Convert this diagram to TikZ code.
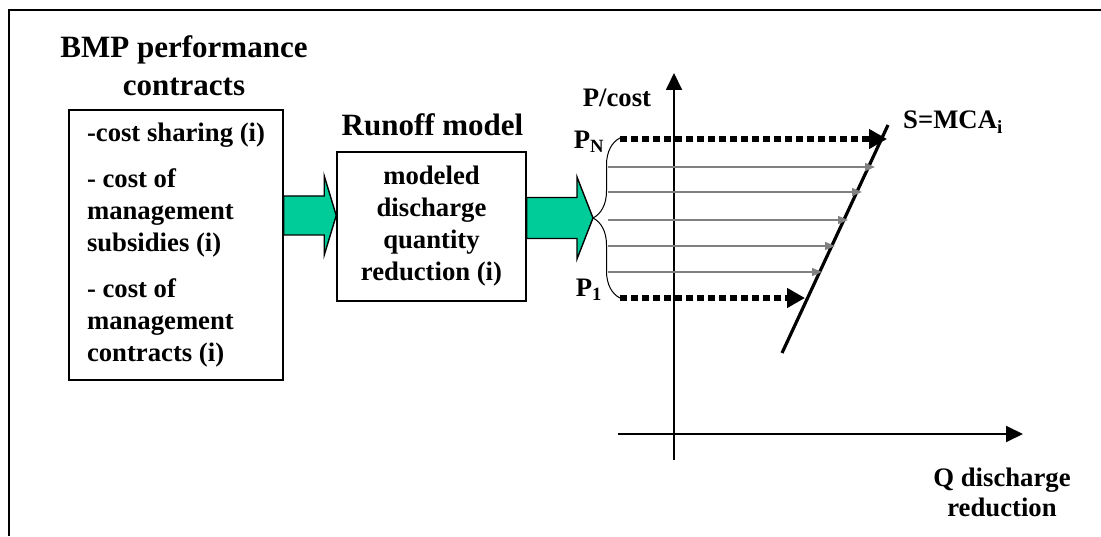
\documentclass[tikz,border=0pt]{standalone}
\usepackage{fontspec}
\setmainfont{Liberation Serif}
\usetikzlibrary{arrows.meta,positioning,calc,decorations.pathreplacing}
\definecolor{flowgreen}{RGB}{0,204,153}
\definecolor{stepgray}{RGB}{128,128,128}

\newcommand{\blockarrow}[5]{%
	\draw[fat] ($(#1)+(0,#3)$) -- ($(#2)+(-#5,#3)$) -- ($(#2)+(-#5,#4)$) -- (#2)
	-- ($(#2)+(-#5,-#4)$) -- ($(#2)+(-#5,-#3)$) -- ($(#1)+(0,-#3)$) -- cycle;}

\begin{document}
\begin{tikzpicture}[x=1pt,y=1pt,
	box/.style={
		draw,
		line width=1.5pt,
		font=\fontsize{26.7}{32}\selectfont\bfseries
	},
	heading/.style={
		font=\fontsize{31}{38}\selectfont\bfseries,
		align=center,
		inner sep=0pt
	},
	lbl/.style={
		font=\fontsize{26.7}{30}\selectfont\bfseries,
		inner sep=0pt
	},
	fat/.style={draw=black, line width=1.4pt, fill=flowgreen, line join=miter},
	axis/.style={line width=1.8pt, -{Triangle[length=17pt,width=16pt]}},
	bound/.style={line width=6pt, dash pattern=on 7pt off 4pt, -{Triangle[length=18pt,width=19pt]}},
	pricearrow/.style={stepgray, line width=1.5pt, -{Triangle[length=10pt,width=8pt]}}
	]
	\useasboundingbox (0,0) rectangle (1101,536);
	\draw[line width=2.3pt] (9,0) -- (9,526) -- (1101,526);
	
	\node[box, minimum width=214pt, inner sep=0pt, minimum height=270pt, align=left] 
	(contracts) at (176,291) {-cost sharing (i)\\[14pt] - cost of\\ management\\ subsidies (i)\\[14pt] - cost of\\ management\\ contracts (i)};
	\node[heading] (bmp) at (184,470) {BMP performance\\contracts};
	
	\node[box, minimum width=189pt, minimum height=149pt, inner sep=0pt, align=center] 
	(model) at (431.5,309.5) {modeled\\discharge\\quantity\\reduction (i)};
	\node[heading] (runoff) at (432.5,411) {Runoff model};
	
	\coordinate (a1e) at (model.west |- 0,320.5);
	\coordinate (a1s) at (contracts.east |- a1e);
	\blockarrow{a1s}{a1e}{19.5}{39.5}{12}
	
	\coordinate (btip) at (593,318);
	\coordinate (bbot) at (620,238);
	\coordinate (btop) at (620,398);
	\draw[line width=1pt, decorate, decoration={brace, amplitude=27pt}] (bbot) -- (btop);
	\coordinate (a2s) at (model.east |- btip);
	\blockarrow{a2s}{btip}{20.5}{41}{16}
	
	\coordinate (vlow) at (674,76);
	\coordinate (vtop) at (674,463);
	\coordinate (hleft) at (618,102);
	\coordinate (hright) at (1023,102);
	\draw[axis] (vlow) -- (vtop);
	\draw[axis] (hleft) -- (hright);
	
	\coordinate (s1) at (782,183);
	\coordinate (s2) at (888,411);
	\draw[line width=3.2pt] (s1) -- (s2);
	
	\foreach \y/\x [count=\i] in {369/875,344/862,316/848,290/835,264/822} {
		\coordinate (from\i) at (608,\y);
		\coordinate (to\i) at (\x,\y);
		\draw[pricearrow] (from\i) -- (to\i);
	}
	
	\coordinate (pnend) at (887,397);
	\coordinate (poneend) at (805,238);
	\draw[bound] (btop |- pnend) -- (pnend);
	\draw[bound] (bbot |- poneend) -- (poneend);
	
	\node[lbl] (pcost) at (617,438) {P/cost};
	\node[lbl] (pN) at (589,394) {P\textsubscript{N}};
	\node[lbl] (pOne) at (589,246) {P\textsubscript{1}};
	\node[lbl, right=15pt of s2, yshift=3pt] (mca) {S=MCA\textsubscript{i}};
	\node[lbl, align=center] (qlabel) at (1002,44) {Q discharge\\reduction};
\end{tikzpicture}
\end{document}
